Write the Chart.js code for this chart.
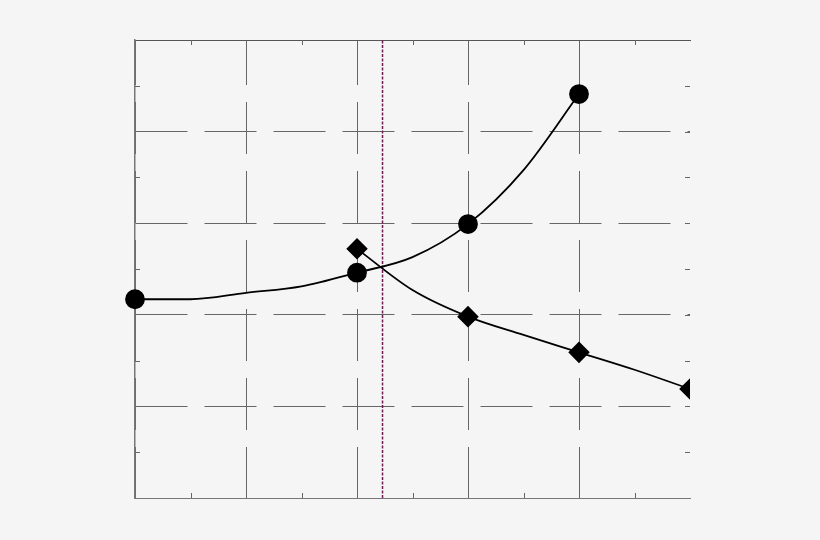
<!DOCTYPE html>
<html lang="en">
<head>
  <meta charset="UTF-8">
  <title>Two curves with marker</title>
  <script src="https://cdn.jsdelivr.net/npm/chart.js"></script>
  <style>
    html, body { margin: 0; padding: 0; background: #f5f5f5; }
    #wrap { width: 820px; height: 540px; }
  </style>
</head>
<body>
<div id="wrap"><canvas id="chart" width="820" height="540"></canvas></div>

<script>
// circle series (marker shown only where flag is 1)
const circleX = [0, 0.5, 1, 1.5, 2, 2.5, 3, 3.5, 4];
const circleY = [2.17, 2.17, 2.24, 2.31, 2.46, 2.63, 2.99, 3.58, 4.41];
const circleMarks = [1, 0, 0, 0, 1, 0, 1, 0, 1];

// diamond series
const diamondX = [2, 2.5, 3, 3.5, 4, 4.5, 5];
const diamondY = [2.72, 2.27, 1.98, 1.78, 1.59, 1.40, 1.19];
const diamondMarks = [1, 0, 1, 0, 1, 0, 1];

// vertical marker line
const markerX = 2.23;

const xMin = 0, xMax = 5, yMin = 0, yMax = 5;

function pts(xs, ys) {
  return xs.map((x, i) => ({ x: x, y: ys[i] }));
}

// small inward ticks at half steps (and majors on the right side)
const minorTicks = {
  id: 'minorTicks',
  afterDatasetsDraw(chart) {
    const { ctx, chartArea: a, scales: { x, y } } = chart;
    ctx.save();
    ctx.strokeStyle = '#666';
    ctx.lineWidth = 1;
    ctx.beginPath();
    for (let v = xMin + 0.5; v < xMax; v += 1) {
      const px = Math.round(x.getPixelForValue(v)) + 0.5;
      ctx.moveTo(px, a.top); ctx.lineTo(px, a.top + 5);
      ctx.moveTo(px, a.bottom); ctx.lineTo(px, a.bottom - 5);
    }
    for (let v = yMin + 0.5; v < yMax; v += 0.5) {
      const py = Math.round(y.getPixelForValue(v)) + 0.5;
      if (v % 1 !== 0) {
        ctx.moveTo(a.left, py); ctx.lineTo(a.left + 5, py);
      }
      ctx.moveTo(a.right, py); ctx.lineTo(a.right - 5, py);
    }
    ctx.stroke();
    ctx.restore();
  }
};

const ctx = document.getElementById('chart').getContext('2d');
new Chart(ctx, {
  type: 'line',
  data: {
    datasets: [
      {
        label: 'circles',
        data: pts(circleX, circleY),
        borderColor: '#000',
        backgroundColor: '#000',
        borderWidth: 1.8,
        pointStyle: 'circle',
        pointRadius: circleMarks.map(m => m ? 9 : 0),
        cubicInterpolationMode: 'monotone',
        clip: false
      },
      {
        label: 'diamonds',
        data: pts(diamondX, diamondY),
        borderColor: '#000',
        backgroundColor: '#000',
        borderWidth: 1.8,
        pointStyle: 'rectRot',
        pointRadius: diamondMarks.map(m => m ? 9.5 : 0),
        cubicInterpolationMode: 'monotone',
        clip: { left: 10, top: 10, right: 0, bottom: 10 }
      },
      {
        label: 'marker',
        data: [{ x: markerX, y: yMin }, { x: markerX, y: yMax }],
        borderColor: '#6e1a50',
        borderWidth: 1.5,
        borderDash: [3, 1.5],
        pointRadius: 0
      }
    ]
  },
  options: {
    responsive: false,
    animation: false,
    layout: { padding: { left: 135, right: 130, top: 40, bottom: 42 } },
    plugins: { legend: { display: false }, tooltip: { enabled: false } },
    scales: {
      x: {
        type: 'linear', min: xMin, max: xMax,
        ticks: { display: false, stepSize: 1 },
        grid: {
          color: c => (c.tick && c.tick.value === xMax) ? 'rgba(0,0,0,0)' : '#666',
          lineWidth: 1, drawTicks: false
        },
        border: { display: true, color: '#777', width: 1, dash: [52, 17], dashOffset: 7 }
      },
      x2: {
        type: 'linear', position: 'top', min: xMin, max: xMax,
        ticks: { display: false },
        grid: { display: false, drawTicks: false },
        border: { display: true, color: '#555', width: 1 }
      },
      y: {
        type: 'linear', min: yMin, max: yMax,
        ticks: { display: false, stepSize: 1 },
        grid: { color: '#666', lineWidth: 1, drawTicks: false },
        border: { display: true, color: '#777', width: 1.5, dash: [52, 17] }
      }
    }
  },
  plugins: [minorTicks]
});
</script>
</body>
</html>
